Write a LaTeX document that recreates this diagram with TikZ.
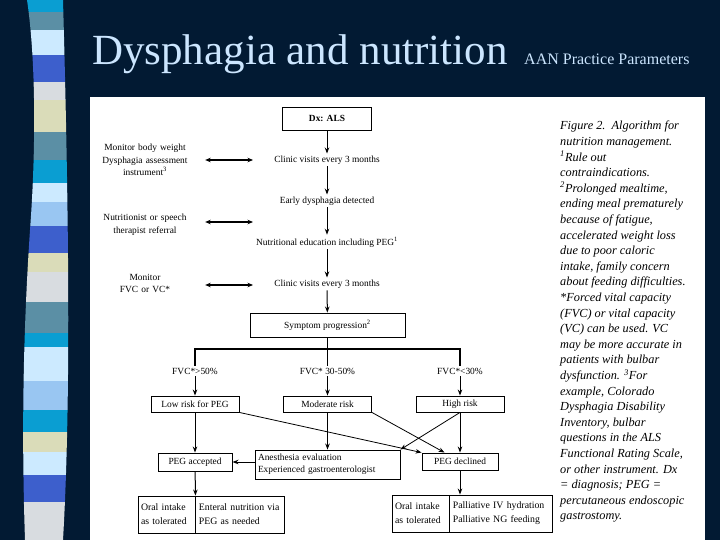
\documentclass[tikz,border=0pt]{standalone}
\usepackage{fontspec}
\setmainfont{Liberation Serif}
\usetikzlibrary{positioning}
\usetikzlibrary{arrows.meta}

\definecolor{navy}{HTML}{021A33}
\definecolor{titleblue}{HTML}{CCE6FF}
\definecolor{stcyan}{HTML}{0A9ED2}
\definecolor{ststeel}{HTML}{5B8FA5}
\definecolor{stlight}{HTML}{CCEAFF}
\definecolor{stroyal}{HTML}{3D5FCC}
\definecolor{stgray}{HTML}{D8DCE0}
\definecolor{stbeige}{HTML}{DADCB9}
\definecolor{stmid}{HTML}{99C6F2}

\newcommand\flowfont{\fontsize{9.4}{12.5}\selectfont}
\newcommand\cellfont{\fontsize{9.8}{14}\selectfont}
\newcommand\capfont{\fontsize{12.3}{15.6}\selectfont\itshape}

\begin{document}
\begin{tikzpicture}[x=1pt,y=-1pt,
      box/.style={draw,line width=0.9pt,inner sep=2pt,font=\flowfont},
      txt/.style={inner sep=2pt,font=\flowfont},
      note/.style={inner sep=2pt,font=\flowfont,align=center,text width=86pt},
      cell/.style={draw,line width=0.9pt,align=left,minimum height=37pt,inner xsep=3pt,font=\cellfont},
      arr/.style={line width=1pt,-{Stealth[length=6pt,width=4.5pt]}},
      link/.style={line width=0.8pt,-{Stealth[length=6pt,width=4.5pt]}},
      dbl/.style={line width=1.4pt,{Stealth[length=5.5pt,width=4.5pt]}-{Stealth[length=5.5pt,width=4.5pt]}},
      fork/.style={line width=1.3pt}]
    \fill[navy] (0,0) rectangle (720,540);
    \begin{scope}
      \clip (27,0) .. controls (36,60) and (36,150) .. (30,230)
        .. controls (24,320) and (21,420) .. (25,540) -- (63,540)
        .. controls (70,420) and (70,250) .. (63,0) -- cycle;
      \foreach \ya/\yb/\col in {0/12/stcyan,12/30/ststeel,30/55/stlight,55/82/stroyal,
          82/100/stgray,100/132/stbeige,132/160/ststeel,160/183/stcyan,183/202/stlight,
          202/226/stmid,226/253/stroyal,253/272/stbeige,272/302/stgray,302/333/ststeel,
          333/347/stcyan,347/381/stlight,381/410/stmid,410/432/stcyan,432/452/stbeige,
          452/475/stlight,475/502/stroyal,502/540/stgray}
        \fill[\col] (15,\ya) rectangle (75,\yb);
    \end{scope}
    \node[anchor=base west,inner sep=0pt,text=titleblue,font=\fontsize{43}{48}\selectfont]
      (title) at (92,65) {Dysphagia and nutrition};
    \node[anchor=base west,inner sep=0pt,text=titleblue,font=\fontsize{16}{18}\selectfont]
      (subtitle) at ([xshift=16pt]title.base east) {AAN Practice Parameters};
    \fill[white] (90,97) rectangle (705,540);

    \node[box,font=\flowfont\bfseries,minimum width=89pt,minimum height=23pt] (dx) at (327,118.5) {Dx: ALS};
    \node[txt] (clinicA) at (327,160) {Clinic visits every 3 months};
    \node[txt] (early) at (327,201) {Early dysphagia detected};
    \node[txt] (edu) at (327,242) {Nutritional education including PEG\textsuperscript{1}};
    \node[txt] (clinicB) at (327,284) {Clinic visits every 3 months};
    \node[box,minimum width=155pt,minimum height=24pt] (symp) at (327.5,325) {Symptom progression\textsuperscript{2}};
    \draw[arr] (dx) -- (clinicA);
    \draw[arr] (clinicA) -- (early);
    \draw[arr] (early) -- (edu);
    \draw[arr] (edu) -- (clinicB);
    \draw[arr] (clinicB) -- (symp);

    \node[note] (monA) at (145,160) {Monitor body weight\\Dysphagia assessment\\instrument\textsuperscript{3}};
    \node[note] (refer) at (145,224.5) {Nutritionist or speech\\therapist referral};
    \node[note] (monB) at (145,283.5) {Monitor\\FVC or VC*};
    \coordinate (tipA) at (253,160);
    \coordinate (tipB) at (253,222);
    \coordinate (tipC) at (253,285);
    \draw[dbl,shorten <=15pt] (monA.east |- tipA) -- (tipA);
    \draw[dbl,shorten <=15pt] (refer.east |- tipB) -- (tipB);
    \draw[dbl,shorten <=15pt] (monB.east |- tipC) -- (tipC);

    \coordinate (forkY) at (327.5,349);
    \node[txt] (fvcA) at (195,371) {FVC*>50\%};
    \node[txt] (fvcB) at (327.5,371) {FVC* 30-50\%};
    \node[txt] (fvcC) at (460,371) {FVC*<30\%};
    \draw[fork] (symp) -- (forkY);
    \draw[fork] (fvcA) -- (fvcA |- forkY) -- (fvcC |- forkY) -- (fvcC);
    \draw[fork] (forkY) -- (fvcB);

    \node[box,minimum width=88pt,minimum height=16pt] (low) at (195,404) {Low risk for PEG};
    \node[box,minimum width=88pt,minimum height=16pt] (mod) at (327.5,404) {Moderate risk};
    \node[box,minimum width=88pt,minimum height=16pt] (high) at (460,404) {High risk};
    \draw[arr] (fvcA) -- (low);
    \draw[arr] (fvcB) -- (mod);
    \draw[arr] (fvcC) -- (high);

    \node[box,minimum width=74pt,minimum height=18pt] (acc) at (195,462) {PEG accepted};
    \node[box,align=left,text width=139pt,inner xsep=3pt,minimum height=29pt] (anes) at (327.5,464.5)
      {Anesthesia evaluation\\Experienced gastroenterologist};
    \node[box,minimum width=76pt,minimum height=17pt] (declined) at (460,461.5) {PEG declined};
    \draw[arr] (low) -- (acc);
    \draw[arr] (mod) -- (anes);
    \draw[arr] (high) -- (declined);
    \draw[arr] (anes.west |- acc.east) -- (acc.east);
    \draw[link] (low.south east) -- (declined.north west);
    \draw[link] (mod.south east) -- (declined.150);
    \draw[link] (high.south) -- (anes.north east);

    \node[cell,text width=51pt] (oralA) at (166.5,514.5) {Oral intake\\as tolerated};
    \node[cell,text width=83pt,right=0pt of oralA] (enteral) {Enteral nutrition via\\PEG as needed};
    \node[cell,text width=51pt] (oralB) at (420.5,513.5) {Oral intake\\as tolerated};
    \node[cell,text width=97pt,right=0pt of oralB] (pall) {Palliative IV hydration\\Palliative NG feeding};
    \draw[arr] (acc) -- (oralA.north east);
    \draw[arr] (declined) -- (declined.south |- pall.north);

    \node[anchor=north west,align=left,inner sep=0pt,font=\capfont] (caption) at (560,121)
      {Figure 2.\ \ Algorithm for\\nutrition management.\\\textsuperscript{1}Rule out\\contraindications.\\
       \textsuperscript{2}Prolonged mealtime,\\ending meal prematurely\\because of fatigue,\\
       accelerated weight loss\\due to poor caloric\\intake, family concern\\
       about feeding difficulties.\\*Forced vital capacity\\(FVC) or vital capacity\\
       (VC) can be used. VC\\may be more accurate in\\patients with bulbar\\
       dysfunction. \textsuperscript{3}For\\example, Colorado\\Dysphagia Disability\\
       Inventory, bulbar\\questions in the ALS\\Functional Rating Scale,\\
       or other instrument. Dx\\= diagnosis; PEG =\\percutaneous endoscopic\\gastrostomy.};
  \end{tikzpicture}
\end{document}
